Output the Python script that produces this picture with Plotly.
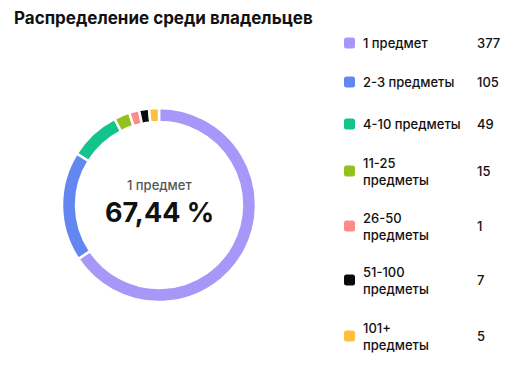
import plotly.graph_objects as go

title = "Распределение среди владельцев"
categories = ["1 предмет", "2-3 предметы", "4-10 предметы", "11-25 предметы",
              "26-50 предметы", "51-100 предметы", "101+ предметы"]
legend_labels = ["1 предмет", "2-3 предметы", "4-10 предметы", "11-25<br>предметы",
                 "26-50<br>предметы", "51-100<br>предметы", "101+<br>предметы"]
values = [377, 105, 49, 15, 1, 7, 5]
colors = ["#A797F8", "#6287F1", "#12C38B", "#94C11F", "#FF8A8A", "#0A0A0A", "#FFBF3C"]

total = sum(values)
# minimum visible slice size (like a min-angle option)
display_vals = [max(v, total * 0.017) for v in values]

W, H = 530, 375
cx, cy, R = 159, 205, 97

fig = go.Figure()
fig.add_trace(go.Pie(
    values=display_vals,
    labels=categories,
    marker=dict(colors=colors, line=dict(color="white", width=2.5)),
    hole=0.855,
    sort=False,
    direction="clockwise",
    rotation=0,
    textinfo="none",
    customdata=values,
    hovertemplate="%{label}: %{customdata}<extra></extra>",
    showlegend=False,
    domain=dict(x=[(cx - R) / W, (cx + R) / W], y=[(H - cy - R) / H, (H - cy + R) / H]),
))

# hidden pixel axes for legend layout
fig.update_layout(
    xaxis=dict(range=[0, W], visible=False, domain=[0, 1], fixedrange=True),
    yaxis=dict(range=[H, 0], visible=False, domain=[0, 1], fixedrange=True),
)

font = "Inter, Roboto, sans-serif"
ann = []
shapes = []
ann.append(dict(x=12, y=18, xref="x", yref="y", text="<b>" + title + "</b>", showarrow=False,
                xanchor="left", yanchor="middle", font=dict(family=font, size=17, color="#111")))

pct = values[0] / total * 100
pct_txt = f"{pct:.2f}".replace(".", ",") + " %"
ann.append(dict(x=cx, y=185, xref="x", yref="y", text=categories[0], showarrow=False,
                font=dict(family=font, size=13, color="#555", weight=500)))
ann.append(dict(x=cx, y=212, xref="x", yref="y", text="<b>" + pct_txt + "</b>", showarrow=False,
                font=dict(family=font, size=27, color="#111")))

row_y = [43, 82, 124, 171, 226, 280, 336]
for i, (lab, v, c) in enumerate(zip(legend_labels, values, colors)):
    y = row_y[i]
    s = 5.5
    r = 2.5
    x0, x1, y0, y1 = 344, 344 + 2 * s, y - s, y + s
    path = (f"M {x0+r},{y0} L {x1-r},{y0} Q {x1},{y0} {x1},{y0+r} L {x1},{y1-r} "
            f"Q {x1},{y1} {x1-r},{y1} L {x0+r},{y1} Q {x0},{y1} {x0},{y1-r} "
            f"L {x0},{y0+r} Q {x0},{y0} {x0+r},{y0} Z")
    shapes.append(dict(type="path", path=path, xref="x", yref="y", fillcolor=c, line=dict(width=0)))
    ann.append(dict(x=361, y=y, xref="x", yref="y", text=lab, showarrow=False, align="left",
                    xanchor="left", yanchor="middle",
                    font=dict(family=font, size=13, color="#111", weight=500)))
    ann.append(dict(x=475, y=y, xref="x", yref="y", text=str(v), showarrow=False,
                    xanchor="left", yanchor="middle",
                    font=dict(family=font, size=13, color="#111", weight=500)))

fig.update_layout(
    width=W, height=H,
    margin=dict(l=0, r=0, t=0, b=0),
    paper_bgcolor="white", plot_bgcolor="white",
    annotations=ann, shapes=shapes,
)
fig.write_html("out.html", config={"displayModeBar": False},
               post_script="document.body.style.margin='0';")
